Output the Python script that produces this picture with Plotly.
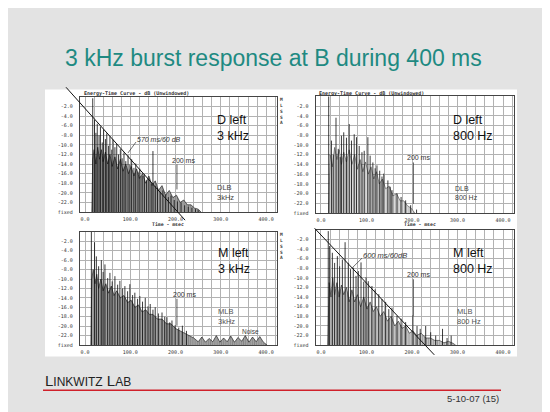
import plotly.graph_objects as go

# ---------------- data ----------------
FLOOR = -24.0

# D left, 3 kHz (top left)
tl_core_t = [15, 17, 20, 24, 28, 32, 36, 40, 45, 50, 55, 60, 66, 72, 78, 84, 90, 96, 102, 108,
             114, 120, 127, 134, 141, 148, 155, 162, 170, 178, 186, 194, 202, 210, 218, 226,
             234, 242, 250, 256]
tl_core_db = [-24, -13, -11, -14, -10.5, -13, -11, -13.5, -11.5, -14, -12, -14.5, -12.5, -15,
              -13, -15.5, -14, -16, -14.5, -16.5, -15, -17, -16, -18, -16.5, -18.5, -17.5,
              -19.5, -18.5, -20.5, -19.5, -21, -20.5, -22, -21.5, -22.5, -22.5, -23.2, -23.4, -24]
tl_spike_t = [17, 21, 24, 27, 31, 34, 38, 41, 45, 48, 52, 55, 59, 62, 66, 70, 74, 78, 82, 86,
              90, 95, 99, 103, 108, 112, 117, 121, 126, 131, 136, 141, 146, 150, 155, 160, 166,
              172, 178, 184, 190, 197, 204, 212, 220, 228, 236, 244, 250]
tl_spike_db = [-0.3, -4.8, -7.5, -5.6, -8.0, -6.2, -9.5, -6.8, -8.8, -7.6, -10.2, -8.2, -11.0,
               -8.9, -10.5, -9.8, -12.0, -10.9, -12.8, -11.6, -13.4, -12.2, -14.1, -13.0, -14.8,
               -13.9, -15.6, -15.0, -16.5, -16.1, -17.4, -17.0, -18.1, -11.3, -18.6, -19.0,
               -19.8, -19.5, -20.4, -20.9, -20.6, -21.5, -21.8, -22.0, -22.6, -22.9, -23.1,
               -23.4, -23.6]

# D left, 800 Hz (top right)
tr_core_t = [17, 20, 25, 30, 35, 40, 45, 50, 56, 62, 68, 74, 80, 86, 92, 98, 104, 110, 116,
             122, 128, 135, 142, 150, 158, 166, 174, 182, 190, 198, 206]
tr_core_db = [-24, -12, -14.5, -10.5, -13, -11, -14, -11.5, -13.5, -11, -14, -12, -15, -13,
              -15.5, -13.5, -16, -14.5, -17, -15.5, -18, -17, -19, -18.5, -20.5, -20, -21.5,
              -21.5, -22.5, -23, -24]
tr_spike_t = [17, 23, 27, 33, 38, 42, 45, 50, 56, 62, 67, 73, 78, 84, 90, 95, 103, 108, 114,
              119, 123, 129, 134, 138, 147, 152, 156, 167, 176, 186, 197, 210]
tr_spike_db = [0.0, -9.1, -12.0, -4.4, -10.8, -12.5, -8.1, -7.4, -8.5, -5.7, -9.1, -7.8, -8.4,
               -10.2, -11.5, -11.2, -8.4, -12.2, -13.6, -14.8, -14.2, -15.3, -16.5, -15.9,
               -17.3, -18.6, -19.3, -20.0, -20.7, -21.4, -22.4, -23.3]

# M left, 3 kHz (bottom left)
bl_core_t = [13, 15, 18, 22, 26, 30, 35, 40, 46, 52, 58, 64, 70, 78, 86, 94, 102, 110, 118,
             126, 134, 142, 150, 160, 170, 180, 190, 200, 210, 220, 230, 240, 250, 258, 266,
             274, 282, 290, 298, 306, 314, 322, 330, 338, 346, 354, 362, 370, 378, 386, 394, 402]
bl_core_db = [-24, -10, -8, -11, -9, -12, -10, -12.5, -11, -13, -11.5, -13.5, -12.5, -14,
              -13.5, -15, -14.5, -16, -15.5, -17, -16.5, -17.5, -17.5, -18.5, -18.5, -19.5,
              -19.5, -20.5, -21, -21.5, -22, -22.5, -23.3, -22.3, -23.4, -22.6, -23.3, -22.0,
              -23.4, -22.5, -23.3, -22.1, -23.4, -22.4, -23.2, -22.0, -23.4, -22.3, -23.3,
              -22.2, -23.4, -24]
bl_spike_t = [14, 21, 25, 30, 36, 40, 44, 50, 55, 60, 66, 72, 77, 83, 88, 94, 99, 105, 110,
              116, 121, 127, 133, 139, 144, 150, 155, 162, 170, 176, 181, 187, 192, 199, 207,
              215, 224]
bl_spike_db = [0.0, -2.2, -5.2, -7.3, -6.0, -8.5, -6.9, -9.8, -8.7, -10.5, -9.4, -11.2, -10.4,
               -12.0, -11.5, -12.6, -11.1, -13.4, -12.9, -14.2, -13.6, -14.8, -14.0, -15.8,
               -15.3, -16.5, -16.0, -17.3, -17.1, -18.0, -18.1, -19.2, -18.8, -19.8, -20.3,
               -19.9, -21.0]

# M left, 800 Hz (bottom right)
br_core_t = [15, 18, 22, 26, 30, 35, 40, 45, 50, 56, 62, 68, 74, 80, 87, 94, 101, 108, 115,
             122, 130, 138, 146, 154, 162, 170, 178, 186, 194, 202, 210, 220, 230, 240, 250,
             260, 270, 280, 290, 296]
br_core_db = [-24, -11, -14, -10, -13.5, -11, -14, -11.5, -13.5, -12, -15, -12.5, -15, -13.5,
              -16, -14, -16.5, -15, -17, -16, -18, -17, -19, -18, -20, -19, -20.5, -20, -21.5,
              -21, -22, -21.5, -22.5, -22.5, -23, -23, -23.5, -23.2, -23.6, -24]
br_spike_t = [16, 19, 25, 30, 36, 41, 47, 53, 60, 65, 71, 77, 82, 88, 94, 99, 104, 112, 119,
              127, 134, 142, 149, 156, 167, 176, 186, 202, 211, 218, 230, 241, 252, 267, 277, 286]
br_spike_db = [-0.3, -3.4, -4.8, -6.9, -5.5, -7.6, -6.2, -2.6, -6.9, -8.2, -7.9, -9.6, -8.6,
               -6.8, -10.8, -9.9, -10.7, -11.7, -12.4, -13.4, -14.4, -15.0, -16.5, -16.2,
               -17.9, -18.5, -19.2, -17.8, -20.0, -20.6, -20.0, -21.3, -22.0, -20.6, -22.5, -22.0]

# hand drawn decay slopes (ms, dB end points)
tl_decay_t = [-42, 221]
tl_decay_db = [2.0, -25.7]
br_decay_t = [-14, 249]
br_decay_db = [0.3, -26.0]

y_ticks = [-2, -4, -6, -8, -10, -12, -14, -16, -18, -20, -22, -24]
y_tick_text = ['-2.0', '-4.0', '-6.0', '-8.0', '-10.0', '-12.0', '-14.0', '-16.0', '-18.0',
               '-20.0', '-22.0', 'fixed']
x_ticks = [0, 100, 200, 300, 400]
x_tick_text = ['0.0', '100.0', '200.0', '300.0', '400.0']

# ---------------- layout helpers ----------------
W, H = 550, 412


def px(x):
    return x / W


def py(y):
    return 1 - y / H


XR = [-12, 424]
panels = [
    dict(core=(tl_core_t, tl_core_db), col='#0c0c0c', sol=0.85, sp=(tl_spike_t, tl_spike_db),
         xd=(71.6, 269.0), yd=(89.5, 205.5)),
    dict(core=(tr_core_t, tr_core_db), col='#444444', sol=0.6, sp=(tr_spike_t, tr_spike_db),
         xd=(307.5, 506.0), yd=(89.0, 206.5)),
    dict(core=(bl_core_t, bl_core_db), col='#0c0c0c', sol=0.85, sp=(bl_spike_t, bl_spike_db),
         xd=(71.6, 269.0), yd=(225.5, 339.5)),
    dict(core=(br_core_t, br_core_db), col='#222222', sol=0.7, sp=(br_spike_t, br_spike_db),
         xd=(307.5, 506.0), yd=(223.3, 339.7)),
]


def to_paper(p, t, db):
    x0, x1 = p['xd']
    ytop, ybot = p['yd']
    xx = x0 + (t - XR[0]) / (XR[1] - XR[0]) * (x1 - x0)
    yy = ybot + (db - FLOOR) / (0 - FLOOR) * (ytop - ybot)
    return px(xx), py(yy)


fig = go.Figure()
grid = '#b2b2b2'
tickfont = dict(family='DejaVu Sans Mono', size=5, color='#333')

for i, p in enumerate(panels):
    s = '' if i == 0 else str(i + 1)
    ct, cd = p['core']
    # dense part of the curve, drawn as a striped fill
    fig.add_trace(go.Scatter(x=ct, y=cd, mode='lines', fill='toself',
                             fillpattern=dict(shape='|', size=2.2, solidity=p['sol'],
                                              fgcolor=p['col'], bgcolor='white'),
                             line=dict(color=p['col'], width=0.6), xaxis='x' + s, yaxis='y' + s,
                             hoverinfo='skip', showlegend=False))
    xs, ys = [], []
    for t, v in zip(*p['sp']):
        xs += [t, t, None]
        ys += [FLOOR, v, None]
    fig.add_trace(go.Scatter(x=xs, y=ys, mode='lines', line=dict(color='#0a0a0a', width=0.8),
                             xaxis='x' + s, yaxis='y' + s, hoverinfo='skip', showlegend=False))
    fig.update_layout({
        'xaxis' + s: dict(domain=[px(p['xd'][0]), px(p['xd'][1])], range=XR, anchor='y' + s,
                          tickvals=x_ticks, ticktext=x_tick_text, showgrid=True, gridcolor=grid,
                          gridwidth=0.6, zeroline=False, showline=True, linecolor='#444',
                          linewidth=0.8, mirror=True, tickfont=tickfont, ticklabelstandoff=2,
                          minor=dict(tickmode='linear', tick0=0, dtick=20, showgrid=True,
                                     gridcolor=grid, gridwidth=0.6)),
        'yaxis' + s: dict(domain=[py(p['yd'][1]), py(p['yd'][0])], range=[FLOOR, 0],
                          anchor='x' + s, tickvals=y_ticks, ticktext=y_tick_text,
                          showgrid=True, gridcolor=grid, gridwidth=0.6, zeroline=False,
                          showline=True, linecolor='#444', linewidth=0.8, mirror=True,
                          tickfont=tickfont, ticklabelstandoff=5),
    })

# slide pieces
fig.add_shape(type='rect', xref='paper', yref='paper', x0=px(37), x1=px(509), y0=py(351),
              y1=py(82), fillcolor='white', line_width=0, layer='below')
fig.add_shape(type='line', xref='paper', yref='paper', x0=px(35), x1=px(493), y0=py(385),
              y1=py(385), line=dict(color='#d0202a', width=1.6))

# decay lines
for p, tt, dd in [(panels[0], tl_decay_t, tl_decay_db), (panels[3], br_decay_t, br_decay_db)]:
    ax, ay = to_paper(p, tt[0], dd[0])
    bx, by = to_paper(p, tt[1], dd[1])
    fig.add_shape(type='line', xref='paper', yref='paper', x0=ax, y0=ay, x1=bx, y1=by,
                  line=dict(color='#111', width=1))

# hand drawn 200 ms markers
for s, y0, y1 in [('', -14.1, -19.3), ('2', -13.6, -22.1), ('3', -14.2, -19.9), ('4', -10.3, -17.9)]:
    fig.add_shape(type='line', xref='x' + s, yref='y' + s, x0=203, x1=203, y0=y0, y1=y1,
                  line=dict(color='#333', width=0.8))

# leader lines for the slope labels
fig.add_shape(type='line', xref='paper', yref='paper', x0=px(128), y0=py(135), x1=px(120),
              y1=py(146), line=dict(color='#333', width=0.7))
fig.add_shape(type='line', xref='paper', yref='paper', x0=px(354), y0=py(252), x1=px(344),
              y1=py(262), line=dict(color='#333', width=0.7))

anns = []


def note(x, y, text, size, color='#222', family='Liberation Sans', anchor='left', **kw):
    anns.append(dict(x=px(x), y=py(y), xref='paper', yref='paper', text=text, showarrow=False,
                     xanchor=anchor, yanchor='middle', align=anchor,
                     font=dict(family=family, size=size, color=color), **kw))


note(265, 50, '3 kHz burst response at B during 400 ms', 23, color='#1e8a82', anchor='center')

big = 12.5
note(207, 121, 'D left<br>3 kHz', big, color='#111')
note(443, 121, 'D left<br>800 Hz', big, color='#111')
note(208, 255, 'M left<br>3 kHz', big, color='#111')
note(443, 255, 'M left<br>800 Hz', big, color='#111')

hw = 'Liberation Sans'
note(127, 132, '<i>570 ms/60 dB</i>', 7, color='#333', family=hw)
note(162, 154, '200 ms', 7, color='#333', family=hw)
note(207, 186, 'DLB<br>3kHz', 7.5, color='#444', family=hw)
note(397, 151, '200 ms', 7, color='#333', family=hw)
note(445, 186, 'DLB<br>800 Hz', 7, color='#444', family=hw)
note(163, 289, '200 ms', 7, color='#333', family=hw)
note(208, 311, 'MLB<br>3kHz', 7.5, color='#555', family=hw)
note(232, 326, 'Noise', 6.5, color='#444', family=hw)
note(353, 249, '<i>600 ms/60dB</i>', 7.5, color='#333', family=hw)
note(397, 268, '200 ms', 7, color='#333', family=hw)
note(447, 311, 'MLB<br>800 Hz', 7.5, color='#555', family=hw)

mono = 'DejaVu Sans Mono'
note(74, 86, '<b>Energy-Time Curve - dB (Unwindowed)</b>', 5, color='#333', family=mono)
note(309, 86, '<b>Energy-Time Curve - dB (Unwindowed)</b>', 5, color='#333', family=mono)
note(160, 218.5, '<b>Time - msec</b>', 4.8, color='#333', family=mono, anchor='center')
note(412, 218.5, '<b>Time - msec</b>', 4.8, color='#333', family=mono, anchor='center')
note(273, 104, '<b>M<br>L<br>S<br>S<br>A</b>', 4.5, color='#333', family=mono, anchor='center')
note(273, 240, '<b>M<br>L<br>S<br>S<br>A</b>', 4.5, color='#333', family=mono, anchor='center')

note(35, 375, 'L<span style="font-size:12px">INKWITZ</span> L<span style="font-size:12px">AB</span>',
     15, color='#222')
note(493, 393, '5-10-07 (15)', 9.5, color='#333', anchor='right')

fig.update_layout(width=W, height=H, margin=dict(l=0, r=0, t=0, b=0),
                  paper_bgcolor='#e3e3e3', plot_bgcolor='white', annotations=anns,
                  showlegend=False)

fig.write_html("out.html")
